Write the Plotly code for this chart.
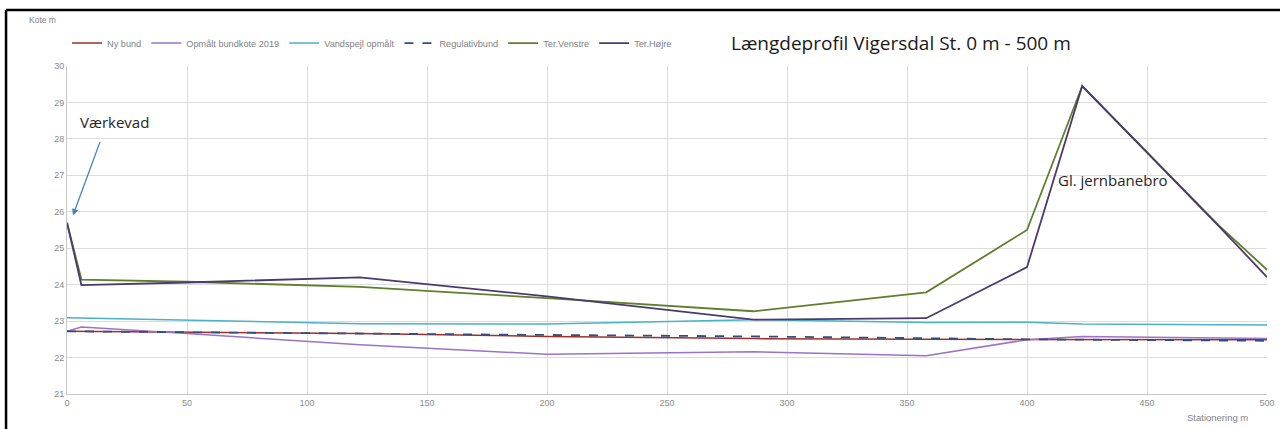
import plotly.graph_objects as go

# Ter.Venstre / Ter.Højre
st_ter = [0, 6, 50, 122, 200, 286, 358, 400, 423, 480, 500]
ter_venstre = [25.70, 24.14, 24.08, 23.94, 23.63, 23.27, 23.79, 25.50, 29.45, 25.62, 24.41]
ter_hojre = [25.70, 23.99, 24.06, 24.20, 23.68, 23.04, 23.08, 24.48, 29.45, 25.60, 24.21]

# Vandspejl opmålt
st_vand = [0, 50, 100, 122, 200, 286, 358, 400, 423, 500]
vandspejl = [23.09, 23.03, 22.96, 22.93, 22.92, 23.04, 22.96, 22.97, 22.92, 22.89]

# Opmålt bundkote 2019
st_bund = [0, 6, 50, 122, 200, 286, 358, 400, 423, 500]
bund_2019 = [22.72, 22.84, 22.66, 22.35, 22.09, 22.16, 22.05, 22.49, 22.58, 22.52]

# Ny bund
st_ny = [0, 50, 122, 200, 286, 358, 400, 423, 500]
ny_bund = [22.72, 22.70, 22.66, 22.58, 22.52, 22.50, 22.50, 22.50, 22.49]

# Regulativbund
st_reg = [0, 100, 200, 286, 358, 400, 500]
regulativ = [22.72, 22.68, 22.62, 22.58, 22.53, 22.50, 22.46]

x_ticks = [0, 50, 100, 150, 200, 250, 300, 350, 400, 450, 500]
y_ticks = [21, 22, 23, 24, 25, 26, 27, 28, 29, 30]

title_text = "Længdeprofil Vigersdal St. 0 m - 500 m"
y_title = "Kote m"
x_title = "Stationering m"

fig = go.Figure()
fig.add_trace(go.Scatter(x=st_ny, y=ny_bund, mode="lines", name="Ny bund",
                         line=dict(color="#9e2f2a", width=1.5)))
fig.add_trace(go.Scatter(x=st_bund, y=bund_2019, mode="lines", name="Opmålt bundkote 2019",
                         line=dict(color="#9b72c9", width=1.5)))
fig.add_trace(go.Scatter(x=st_vand, y=vandspejl, mode="lines", name="Vandspejl opmålt",
                         line=dict(color="#4bb0c8", width=1.5)))
fig.add_trace(go.Scatter(x=st_reg, y=regulativ, mode="lines", name="Regulativbund",
                         line=dict(color="#2e4f80", width=1.8, dash="dash")))
fig.add_trace(go.Scatter(x=st_ter, y=ter_venstre, mode="lines", name="Ter.Venstre",
                         line=dict(color="#5f7f2c", width=1.8)))
fig.add_trace(go.Scatter(x=st_ter, y=ter_hojre, mode="lines", name="Ter.Højre",
                         line=dict(color="#4a3b6c", width=1.8)))

fig.update_layout(
    width=1280, height=429,
    margin=dict(l=67, r=13, t=66, b=35, autoexpand=False),
    paper_bgcolor="white", plot_bgcolor="white",
    font=dict(family="Liberation Sans", color="#7f7f7f", size=9),
    showlegend=True,
    legend=dict(orientation="h", x=0.0, xanchor="left", y=1.07, yanchor="middle",
                font=dict(size=9.2, color="#7f7f7f"), bgcolor="rgba(0,0,0,0)",
                itemwidth=30, tracegroupgap=0),
    xaxis=dict(range=[0, 500], tickvals=x_ticks, showgrid=True, gridcolor="#dcdcdc",
               gridwidth=1, zeroline=False, showline=True, linecolor="#c8c8c8",
               ticks="", tickfont=dict(size=9, color="#8a8a8a")),
    yaxis=dict(range=[21, 30], tickvals=y_ticks, showgrid=True, gridcolor="#dcdcdc",
               gridwidth=1, zeroline=False, showline=True, linecolor="#c8c8c8",
               ticks="", tickfont=dict(size=9, color="#8a8a8a")),
    annotations=[
        dict(text=title_text, xref="paper", yref="paper", x=0.695, y=1.07,
             xanchor="center", yanchor="middle", showarrow=False,
             font=dict(family="Open Sans", size=19, color="#1a1a1a")),
        dict(text=y_title, xref="paper", yref="paper", x=-0.0333, y=1.14,
             xanchor="left", yanchor="middle", showarrow=False,
             font=dict(size=8.5, color="#7f7f7f")),
        dict(text=x_title, xref="paper", yref="paper", x=0.986, y=-0.073,
             xanchor="right", yanchor="middle", showarrow=False,
             font=dict(size=9.5, color="#7f7f7f")),
        dict(text="", x=2.5, y=25.9, xref="x", yref="y",
             ax=14, ay=27.96, axref="x", ayref="y", showarrow=True,
             arrowhead=2, arrowsize=1, arrowwidth=1.3, arrowcolor="#4a7ebb"),
        dict(text="Værkevad", x=19.6, y=28.45, xref="x", yref="y", showarrow=False,
             xanchor="center", yanchor="middle",
             font=dict(family="Open Sans", size=15, color="#262626")),
        dict(text="Gl. jernbanebro", x=412, y=26.87, xref="x", yref="y", showarrow=False,
             xanchor="left", yanchor="middle",
             font=dict(family="Open Sans", size=15, color="#262626")),
    ],
    shapes=[
        dict(type="line", xref="paper", yref="paper", x0=-0.0508, x1=-0.0508, y0=-0.25, y1=1.171,
             line=dict(color="black", width=2.5)),
        dict(type="line", xref="paper", yref="paper", x0=-0.0508, x1=1.1, y0=1.171, y1=1.171,
             line=dict(color="black", width=2.5)),
    ],
)

fig.write_html("out.html", config={"displayModeBar": False},
               post_script="document.body.style.margin='0px';")
